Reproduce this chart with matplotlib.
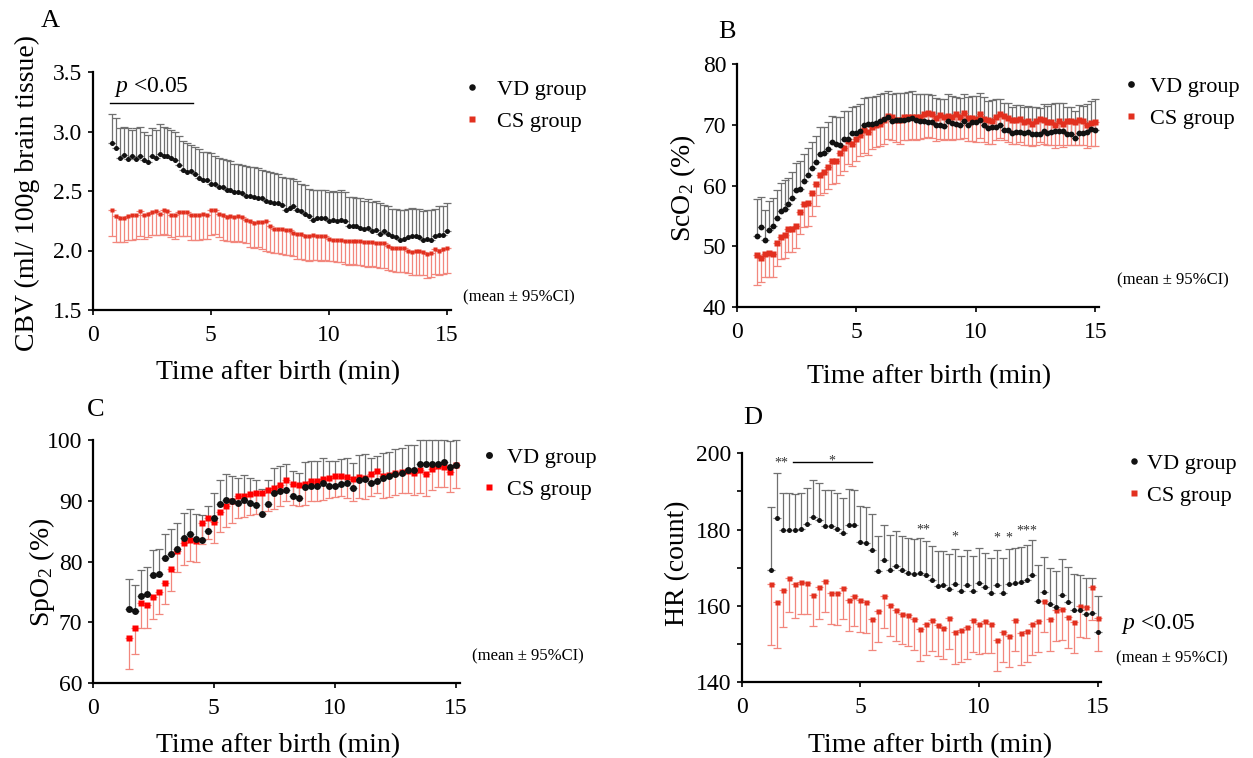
import numpy as np
import matplotlib
matplotlib.use("Agg")
import matplotlib.pyplot as plt

plt.rcParams['font.family'] = ['Liberation Serif', 'DejaVu Serif']
plt.rcParams['mathtext.fontset'] = 'custom'
plt.rcParams['mathtext.rm'] = 'Liberation Serif'
plt.rcParams['mathtext.it'] = 'Liberation Serif:italic'
plt.rcParams['mathtext.default'] = 'regular'

W, H = 1253, 758

# ---------------- data ----------------
# sample times (seconds after birth)
t_ab_sec = np.arange(50, 901, 10)          # panels A, B: every 10 s
t_c_sec = np.arange(90, 901, 15)           # panel C: every 15 s
t_d_sec = np.arange(75, 901, 15)           # panel D: every 15 s

# Panel A: CBV (ml/100g brain tissue)
cbv_vd_mean = [2.90, 2.86, 2.78, 2.80, 2.77, 2.79, 2.77, 2.79, 2.76, 2.74,
               2.79, 2.78, 2.81, 2.79, 2.79, 2.78, 2.76, 2.72, 2.68, 2.66,
               2.67, 2.64, 2.61, 2.59, 2.59, 2.56, 2.56, 2.53, 2.53, 2.51,
               2.51, 2.49, 2.49, 2.48, 2.46, 2.46, 2.45, 2.44, 2.44, 2.42,
               2.41, 2.40, 2.40, 2.38, 2.34, 2.36, 2.37, 2.34, 2.33, 2.31,
               2.29, 2.26, 2.27, 2.27, 2.27, 2.25, 2.26, 2.25, 2.26, 2.25,
               2.21, 2.21, 2.21, 2.19, 2.18, 2.19, 2.16, 2.17, 2.14, 2.16,
               2.14, 2.12, 2.11, 2.09, 2.10, 2.11, 2.12, 2.12, 2.11, 2.09,
               2.10, 2.09, 2.12, 2.13, 2.13, 2.16]
cbv_vd_upper = [3.15, 3.11, 3.03, 3.04, 3.03, 3.01, 3.03, 3.04, 3.00, 2.97,
                3.03, 3.01, 3.06, 3.04, 3.03, 3.01, 3.00, 2.96, 2.92, 2.90,
                2.89, 2.87, 2.85, 2.83, 2.83, 2.82, 2.79, 2.78, 2.77, 2.76,
                2.75, 2.73, 2.73, 2.72, 2.71, 2.70, 2.70, 2.69, 2.68, 2.67,
                2.66, 2.65, 2.64, 2.62, 2.61, 2.61, 2.60, 2.58, 2.56, 2.55,
                2.52, 2.51, 2.51, 2.51, 2.51, 2.49, 2.50, 2.49, 2.51, 2.49,
                2.45, 2.45, 2.44, 2.44, 2.42, 2.43, 2.41, 2.42, 2.40, 2.38,
                2.37, 2.35, 2.35, 2.34, 2.34, 2.35, 2.36, 2.35, 2.35, 2.33,
                2.34, 2.34, 2.35, 2.37, 2.37, 2.40]
cbv_cs_mean = [2.34, 2.29, 2.27, 2.27, 2.29, 2.30, 2.30, 2.33, 2.30, 2.31,
               2.32, 2.33, 2.31, 2.34, 2.33, 2.30, 2.30, 2.32, 2.32, 2.32,
               2.30, 2.30, 2.30, 2.31, 2.30, 2.34, 2.34, 2.31, 2.30, 2.28,
               2.29, 2.28, 2.29, 2.28, 2.26, 2.25, 2.23, 2.24, 2.24, 2.25,
               2.21, 2.18, 2.18, 2.18, 2.17, 2.17, 2.15, 2.14, 2.14, 2.12,
               2.12, 2.13, 2.12, 2.12, 2.12, 2.10, 2.09, 2.09, 2.09, 2.08,
               2.08, 2.08, 2.08, 2.08, 2.07, 2.07, 2.07, 2.06, 2.06, 2.06,
               2.04, 2.02, 2.02, 2.02, 2.02, 2.00, 1.99, 2.00, 2.00, 1.99,
               1.97, 1.98, 2.01, 2.00, 2.01, 2.02]
cbv_cs_lower = [2.12, 2.07, 2.07, 2.07, 2.09, 2.09, 2.10, 2.12, 2.10, 2.11,
                2.13, 2.13, 2.13, 2.14, 2.13, 2.11, 2.10, 2.12, 2.12, 2.12,
                2.09, 2.09, 2.09, 2.10, 2.10, 2.13, 2.14, 2.11, 2.09, 2.08,
                2.08, 2.07, 2.08, 2.07, 2.06, 2.03, 2.02, 2.03, 2.01, 2.00,
                1.99, 1.98, 1.98, 1.97, 1.96, 1.96, 1.95, 1.93, 1.93, 1.92,
                1.91, 1.92, 1.92, 1.91, 1.92, 1.91, 1.91, 1.90, 1.90, 1.89,
                1.88, 1.89, 1.88, 1.88, 1.87, 1.86, 1.87, 1.86, 1.85, 1.85,
                1.84, 1.83, 1.82, 1.82, 1.82, 1.81, 1.79, 1.79, 1.79, 1.79,
                1.77, 1.78, 1.80, 1.79, 1.80, 1.81]

# Panel B: ScO2 (%)
sco2_vd_mean = [51.7, 53.1, 51.0, 52.7, 53.3, 54.7, 55.8, 56.2, 56.9, 58.0,
                59.3, 59.5, 60.8, 61.8, 62.8, 63.8, 65.2, 65.3, 66.0, 67.2,
                66.9, 66.7, 67.7, 67.7, 68.6, 68.6, 69.0, 70.0, 70.1, 70.2,
                70.3, 70.6, 70.9, 71.2, 70.6, 70.8, 70.7, 70.8, 71.0, 71.1,
                70.7, 70.6, 70.6, 70.5, 70.5, 70.0, 69.9, 69.8, 70.6, 70.3,
                70.2, 70.0, 70.6, 70.0, 70.5, 70.5, 70.8, 70.0, 69.5, 69.6,
                69.7, 69.9, 69.1, 69.1, 68.6, 68.8, 68.8, 68.7, 68.8, 68.5,
                68.5, 68.4, 68.9, 68.6, 68.8, 69.0, 69.0, 69.0, 68.5, 68.5,
                67.8, 68.7, 68.6, 68.8, 69.3, 69.1]
sco2_vd_upper = [57.7, 58.1, 55.9, 57.5, 58.0, 59.2, 60.4, 60.9, 61.3, 62.3,
                 63.7, 64.0, 65.2, 66.2, 67.2, 68.2, 69.7, 69.7, 70.4, 71.5,
                 71.3, 71.2, 72.2, 72.2, 73.0, 73.1, 73.4, 74.4, 74.5, 74.6,
                 74.8, 75.1, 75.3, 75.5, 75.0, 75.2, 75.2, 75.2, 75.4, 75.5,
                 75.0, 75.0, 75.0, 75.0, 74.9, 74.4, 74.2, 74.2, 75.0, 74.8,
                 74.5, 74.4, 75.0, 74.5, 74.8, 74.8, 75.2, 74.5, 73.9, 74.1,
                 74.2, 74.3, 73.5, 73.5, 73.0, 73.2, 73.2, 73.0, 73.1, 72.9,
                 72.9, 72.8, 73.4, 73.1, 73.4, 73.5, 73.5, 73.5, 73.0, 73.0,
                 72.3, 73.3, 73.1, 73.4, 73.9, 74.2]
sco2_cs_mean = [48.6, 48.0, 48.8, 48.9, 48.8, 50.5, 51.6, 51.9, 52.8, 52.8,
                53.4, 55.7, 57.0, 57.2, 58.7, 60.3, 61.8, 62.2, 63.1, 64.0,
                64.1, 65.4, 66.1, 67.3, 66.9, 67.7, 68.3, 69.1, 68.8, 69.7,
                70.0, 70.2, 70.8, 71.4, 71.2, 70.8, 70.7, 71.2, 71.2, 71.3,
                71.3, 71.2, 71.7, 71.9, 71.8, 71.1, 71.6, 71.2, 71.4, 71.3,
                71.7, 71.3, 71.9, 71.1, 71.1, 70.9, 71.8, 71.0, 70.8, 70.6,
                71.3, 71.8, 71.4, 71.1, 70.7, 70.8, 71.0, 70.5, 70.6, 70.2,
                70.6, 71.0, 70.8, 70.4, 70.4, 69.9, 70.6, 70.1, 70.6, 70.6,
                70.5, 70.7, 70.6, 69.9, 70.3, 70.4]
sco2_cs_lower = [43.6, 44.1, 44.9, 45.0, 44.9, 46.7, 47.9, 48.0, 49.0, 49.0,
                 49.7, 52.0, 53.2, 53.4, 54.9, 56.6, 58.5, 58.7, 59.5, 60.3,
                 60.4, 61.7, 62.4, 63.5, 63.2, 64.1, 64.9, 65.4, 65.0, 66.0,
                 66.3, 66.5, 66.9, 67.6, 67.5, 67.2, 66.8, 67.5, 67.5, 67.6,
                 67.5, 67.6, 67.9, 68.0, 67.9, 67.4, 67.7, 67.5, 67.6, 67.5,
                 67.7, 67.6, 67.8, 67.3, 67.3, 67.2, 67.9, 67.2, 66.9, 66.8,
                 67.5, 67.8, 67.5, 67.2, 66.9, 66.9, 67.1, 66.7, 66.7, 66.5,
                 66.7, 67.1, 66.9, 66.6, 66.6, 66.2, 66.7, 66.3, 66.7, 66.7,
                 66.6, 66.7, 66.6, 66.2, 66.5, 66.5]

# Panel C: SpO2 (%)
spo2_vd_mean = [72.2, 71.8, 74.4, 74.7, 77.7, 78.0, 80.5, 81.3, 82.1, 83.8,
                84.6, 83.7, 83.5, 85.1, 87.1, 89.4, 90.2, 89.9, 89.7, 90.1,
                89.7, 89.3, 87.8, 89.4, 91.3, 91.6, 91.8, 90.7, 90.4, 92.3,
                92.4, 92.5, 93.0, 92.5, 92.4, 92.7, 93.0, 92.1, 93.4, 93.6,
                93.0, 93.3, 93.7, 94.0, 94.4, 94.5, 95.0, 95.1, 96.1, 96.1,
                96.1, 96.0, 96.3, 95.6, 95.9]
spo2_vd_upper = [77.1, 76.1, 78.6, 79.1, 81.9, 82.1, 84.6, 85.4, 86.3, 88.0,
                 88.7, 87.8, 87.7, 89.1, 91.3, 93.4, 94.4, 94.1, 93.7, 94.2,
                 93.7, 93.4, 91.9, 93.4, 95.4, 95.7, 96.0, 94.9, 94.5, 96.4,
                 96.5, 96.6, 97.1, 96.6, 96.5, 96.8, 97.1, 96.2, 97.5, 97.7,
                 97.1, 97.4, 97.8, 98.1, 98.5, 98.7, 99.1, 99.2, 100.0, 100.0,
                 100.0, 100.0, 100.0, 99.8, 100.0]
spo2_cs_mean = [67.4, 69.1, 73.1, 72.8, 74.2, 74.9, 76.5, 78.8, 81.7, 83.1,
                83.6, 83.4, 86.3, 87.2, 86.5, 88.2, 89.1, 89.9, 90.7, 90.7,
                91.1, 91.3, 91.3, 91.8, 92.1, 92.6, 93.4, 92.8, 92.6, 92.8,
                93.3, 93.3, 93.5, 93.8, 94.0, 94.1, 93.9, 93.5, 93.9, 93.8,
                94.4, 94.9, 94.1, 94.2, 94.5, 94.8, 94.9, 94.5, 95.0, 94.4,
                95.3, 95.7, 95.6, 94.8, 95.9]
spo2_cs_lower = [62.3, 64.7, 69.1, 69.0, 70.5, 71.4, 73.0, 75.2, 78.3, 79.5,
                 80.1, 80.0, 82.9, 83.7, 83.0, 84.8, 85.6, 86.4, 87.1, 87.3,
                 87.6, 87.9, 87.9, 88.3, 88.6, 89.1, 90.0, 89.3, 89.1, 89.3,
                 89.9, 89.9, 90.1, 90.4, 90.6, 90.7, 90.4, 90.0, 90.4, 90.3,
                 90.8, 91.3, 90.5, 90.6, 90.9, 91.3, 91.2, 90.9, 91.3, 90.8,
                 91.7, 92.3, 92.2, 91.4, 92.1]

# Panel D: HR (count)
hr_vd_mean = [169.5, 183.1, 180.0, 180.0, 179.9, 180.1, 181.5, 183.4, 182.5, 180.9,
              181.0, 180.2, 179.0, 181.3, 181.1, 176.8, 176.4, 174.7, 169.1, 172.1,
              169.4, 170.5, 169.3, 168.7, 168.3, 168.6, 168.0, 166.7, 165.3, 165.5,
              164.5, 165.8, 164.0, 165.6, 164.0, 165.9, 164.9, 163.4, 165.5, 163.3,
              165.8, 166.1, 166.2, 166.8, 168.2, 161.4, 163.7, 160.6, 159.8, 162.9,
              161.1, 159.0, 158.9, 158.0, 158.1, 153.2]
hr_vd_upper = [185.9, 194.8, 189.5, 189.5, 189.3, 189.5, 191.0, 192.9, 192.1, 190.3,
               190.3, 189.5, 188.3, 190.6, 190.4, 186.1, 185.9, 184.0, 178.3, 181.1,
               178.5, 179.7, 178.3, 177.7, 177.6, 177.7, 177.0, 175.7, 174.4, 174.4,
               173.5, 174.9, 173.1, 174.7, 173.0, 175.1, 173.8, 172.5, 174.7, 172.5,
               174.9, 175.1, 175.4, 175.9, 177.3, 170.7, 172.9, 169.9, 169.2, 172.2,
               170.3, 168.3, 168.1, 167.3, 167.3, 162.7]
hr_cs_mean = [165.8, 161.1, 164.2, 167.3, 165.7, 166.2, 166.0, 162.9, 165.0, 166.6,
              163.4, 163.4, 164.7, 161.6, 162.7, 161.6, 161.1, 156.6, 158.8, 162.5,
              160.2, 158.9, 158.0, 157.6, 156.5, 153.9, 155.2, 156.3, 155.0, 154.2,
              156.8, 153.1, 153.6, 154.4, 156.2, 155.4, 156.0, 155.4, 151.1, 153.2,
              152.1, 156.3, 152.8, 153.5, 155.4, 156.1, 161.3, 156.5, 159.0, 159.1,
              157.2, 155.8, 160.0, 159.7, 165.0, 156.8]
hr_cs_lower = [149.7, 148.9, 154.6, 158.3, 156.8, 157.8, 157.8, 154.8, 156.6, 158.3,
               155.3, 155.0, 156.6, 153.5, 154.8, 153.3, 152.8, 148.5, 150.6, 154.3,
               152.1, 150.8, 150.0, 149.6, 148.5, 145.7, 147.2, 148.3, 146.9, 146.1,
               148.7, 144.8, 145.4, 146.2, 148.0, 147.4, 147.6, 147.6, 143.0, 145.2,
               143.9, 148.2, 144.5, 145.4, 147.2, 148.0, 153.1, 148.3, 150.8, 151.1,
               148.9, 147.8, 151.8, 151.5, 156.3, 148.2]

labels = ["VD group", "CS group"]
xlabel = "Time after birth (min)"
ci_note = "(mean ± 95%CI)"

# ---------------- styling ----------------
BLACK = '#111111'
RED = '#e2301f'
RED_C = '#ff0000'
EBAR_BLACK = '#707070'
EBAR_RED = '#f2877d'


def fx(px):
    return px / W


def fy(py):
    return 1 - py / H


fig = plt.figure(figsize=(W / 100, H / 100), dpi=100)


def make_axes(x0, x15, ybot, ytop, xmax=15.15):
    ppm = (x15 - x0) / 15.0
    right = x0 + ppm * xmax
    ax = fig.add_axes([fx(x0), fy(ybot), (right - x0) / W, (ybot - ytop) / H])
    ax.set_xlim(0, xmax)
    for s in ['top', 'right']:
        ax.spines[s].set_visible(False)
    for s in ['left', 'bottom']:
        ax.spines[s].set_linewidth(1.6)
    ax.tick_params(direction='out', length=3.5, width=1.2, labelsize=17,
                   pad=4)
    ax.tick_params(axis='x', pad=7)
    ax.set_xticks([0, 5, 10, 15])
    return ax


def draw(ax, t_sec, vd_mean, vd_up, cs_mean, cs_lo, ms_o, ms_s, red=RED):
    t = np.asarray(t_sec) / 60.0
    vm = np.asarray(vd_mean); vu = np.asarray(vd_up)
    cm = np.asarray(cs_mean); cl = np.asarray(cs_lo)
    ax.errorbar(t, vm, yerr=[np.zeros_like(vm), vu - vm], fmt='none',
                ecolor=EBAR_BLACK, elinewidth=0.9, capsize=2.6, capthick=0.9,
                zorder=2, clip_on=False)
    ax.errorbar(t, cm, yerr=[cm - cl, np.zeros_like(cm)], fmt='none',
                ecolor=EBAR_RED, elinewidth=0.9, capsize=2.6, capthick=0.9,
                zorder=2, clip_on=False)
    h1, = ax.plot(t, vm, 'o', color=BLACK, ms=ms_o, mec='none', zorder=4,
                  label=labels[0], clip_on=False)
    h2, = ax.plot(t, cm, 's', color=red, ms=ms_s, mec='none', zorder=3,
                  label=labels[1], clip_on=False)
    return h1, h2


def legend(ax, handles, x_marker, y_first, pad, scale=1.3, spacing=0.52):
    fs = 16
    fs_px = fs * 100 / 72
    L = 0.6
    ax_leg = ax.legend(handles=handles, loc='upper left',
                       bbox_to_anchor=(fx(x_marker - L / 2 * fs_px), fy(y_first - 9)),
                       bbox_transform=fig.transFigure, frameon=False,
                       fontsize=fs, handlelength=L, handletextpad=pad,
                       borderpad=0, borderaxespad=0, labelspacing=spacing,
                       markerscale=scale, handleheight=0.7)
    return ax_leg


def labels_at(ax, ylabel, ylab_xy, xlab_xy, letter, letter_xy):
    ax.set_ylabel(ylabel, fontsize=20, va='center', ha='center')
    ax.yaxis.set_label_coords(fx(ylab_xy[0]), fy(ylab_xy[1]), transform=fig.transFigure)
    ax.set_xlabel(xlabel, fontsize=20, va='center', ha='center')
    ax.xaxis.set_label_coords(fx(xlab_xy[0]), fy(xlab_xy[1]), transform=fig.transFigure)
    fig.text(fx(letter_xy[0]), fy(letter_xy[1]), letter, fontsize=19,
             ha='center', va='center')


# ---------------- Panel A ----------------
axA = make_axes(92.7, 447.0, 310.0, 72.0)
axA.set_ylim(1.5, 3.5)
axA.set_yticks([1.5, 2.0, 2.5, 3.0, 3.5])
axA.set_yticklabels(['1.5', '2.0', '2.5', '3.0', '3.5'])
hA = draw(axA, t_ab_sec, cbv_vd_mean, cbv_vd_upper, cbv_cs_mean, cbv_cs_lower, 3.6, 3.4)
labels_at(axA, "CBV (ml/ 100g brain tissue)", (27, 193), (278, 373), "A", (50, 21))
legend(axA, hA, 471.7, 88, 0.83)
axA.plot([0.73, 4.25], [3.24, 3.24], color='black', lw=1.0, clip_on=False)
axA.text(2.5, 3.37, r"$\mathit{p}$ <0.05", fontsize=17, ha='center', va='center')
fig.text(fx(463), fy(297), ci_note, fontsize=12, ha='left', va='center')

# ---------------- Panel B ----------------
axB = make_axes(736.7, 1095.3, 307.0, 64.0)
axB.set_ylim(40, 80)
axB.set_yticks([40, 50, 60, 70, 80])
hB = draw(axB, t_ab_sec, sco2_vd_mean, sco2_vd_upper, sco2_cs_mean, sco2_cs_lower, 4.2, 4.0)
labels_at(axB, "ScO$_2$ (%)", (683, 188), (929, 377), "B", (727, 32))
legend(axB, hB, 1130.7, 85, 0.57, scale=1.15)
fig.text(fx(1117), fy(280), ci_note, fontsize=12, ha='left', va='center')

# ---------------- Panel C ----------------
axC = make_axes(92.7, 456.0, 683.0, 440.0)
axC.set_ylim(60, 100)
axC.set_yticks([60, 70, 80, 90, 100])
hC = draw(axC, t_c_sec, spo2_vd_mean, spo2_vd_upper, spo2_cs_mean, spo2_cs_lower, 5.0, 4.8, red=RED_C)
labels_at(axC, "SpO$_2$ (%)", (42, 572), (278, 746), "C", (96, 410))
legend(axC, hC, 489, 456, 0.51, scale=1.0)
fig.text(fx(472), fy(656), ci_note, fontsize=12, ha='left', va='center')

# ---------------- Panel D ----------------
axD = make_axes(741.7, 1097.7, 682.3, 453.3)
axD.set_ylim(140, 200)
axD.set_yticks(np.arange(140, 201, 10))
axD.set_yticklabels(['140', '', '160', '', '180', '', '200'])
hD = draw(axD, t_d_sec, hr_vd_mean, hr_vd_upper, hr_cs_mean, hr_cs_lower, 3.6, 3.6)
labels_at(axD, "HR (count)", (678, 563), (930, 746), "D", (753, 418))
legend(axD, hD, 1134, 462, 0.29, scale=1.3)
fig.text(fx(1158), fy(624), r"$\mathit{p}$ <0.05", fontsize=17, ha='center', va='center')
fig.text(fx(1172), fy(658), ci_note, fontsize=12, ha='center', va='center')

# significance marks in D
axD.plot([2.16, 5.49], [197.7, 197.7], color='black', lw=1.0)
star_marks = [("**", 1.66, 196.4), ("*", 3.80, 197.0), ("**", 7.64, 179.0),
              ("*", 8.99, 177.2), ("*", 10.76, 176.9), ("*", 11.26, 176.9),
              ("***", 12.02, 178.7)]
for s, xs, ys in star_marks:
    axD.text(xs, ys, s, fontsize=10, ha='center', va='baseline', color='#333333')

fig.savefig("out.png", dpi=100)
